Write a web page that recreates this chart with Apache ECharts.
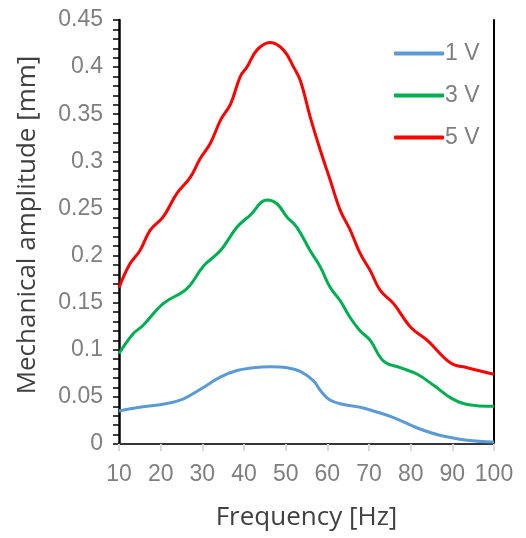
<!DOCTYPE html>
<html><head><meta charset="utf-8">
<script src="https://cdn.jsdelivr.net/npm/echarts@6/dist/echarts.min.js"></script>
<style>html,body{margin:0;padding:0;background:#fff}#c{width:526px;height:538px}</style>
</head><body><div id="c"></div>
<script>
const seriesNames = ['1 V', '3 V', '5 V'];
const xTicks = [10, 20, 30, 40, 50, 60, 70, 80, 90, 100];
const yTicks = [0, 0.05, 0.1, 0.15, 0.2, 0.25, 0.3, 0.35, 0.4, 0.45];

const blueHz = [10, 15, 21.5, 25.5, 29.5, 34.3, 38.3, 42.3, 46.3, 50.3, 53.5, 56.7, 58.3, 60.5, 63.9, 67.9, 71.1, 75.9, 81.6, 87.2, 93.6, 100];
const blueV  = [0.035, 0.039, 0.043, 0.048, 0.058, 0.071, 0.078, 0.081, 0.082, 0.081, 0.077, 0.067, 0.057, 0.047, 0.042, 0.039, 0.035, 0.028, 0.017, 0.009, 0.004, 0.002];

const greenHz = [10, 13.4, 15.8, 20.6, 26.3, 30.3, 34.3, 38.3, 41.5, 45.5, 47.9, 50.3, 52.7, 55.9, 58.3, 60.7, 63.1, 65.5, 67.9, 70.3, 73.5, 77.5, 81.6, 85.6, 89.6, 93.6, 100];
const greenV  = [0.096, 0.117, 0.126, 0.149, 0.165, 0.189, 0.205, 0.230, 0.243, 0.259, 0.255, 0.241, 0.230, 0.205, 0.188, 0.166, 0.152, 0.134, 0.120, 0.110, 0.088, 0.081, 0.074, 0.062, 0.049, 0.042, 0.040];

const redHz = [10, 12.6, 15, 17.5, 20.6, 23.9, 27.1, 29.5, 31.9, 34.4, 36.8, 39.1, 40.7, 43.1, 46.3, 49.5, 51.9, 53.5, 55.9, 58.3, 60.7, 63.1, 65.5, 67.9, 70.3, 72.7, 75.9, 80, 84, 89.6, 93.6, 100];
const redV  = [0.166, 0.191, 0.205, 0.227, 0.241, 0.266, 0.283, 0.303, 0.319, 0.344, 0.361, 0.390, 0.400, 0.418, 0.426, 0.418, 0.400, 0.386, 0.347, 0.312, 0.280, 0.248, 0.227, 0.202, 0.184, 0.163, 0.149, 0.124, 0.110, 0.086, 0.081, 0.074];

const colors = ['#5B9BD5', '#00B050', '#FF0000'];
const zip = (a, b) => a.map((x, i) => [x, b[i]]);
const allData = [zip(blueHz, blueV), zip(greenHz, greenV), zip(redHz, redV)];

const chart = echarts.init(document.getElementById('c'));
const labelFont = {color: '#7F7F7F', fontFamily: "'Liberation Sans', Arial, sans-serif", fontSize: 23};
const titleFont = {color: '#404040', fontFamily: "'Open Sans', sans-serif", fontSize: 26};
chart.setOption({
  animation: false,
  grid: {left: 119, right: 32, top: 20, bottom: 94, containLabel: false},
  legend: {
    orient: 'vertical', left: 389, top: 37,
    itemWidth: 50, itemHeight: 4, itemGap: 19,
    icon: 'roundRect',
    data: seriesNames,
    textStyle: Object.assign({}, labelFont, {padding: [0, 0, 0, -4]})
  },
  xAxis: [{
    type: 'value', min: xTicks[0], max: xTicks[xTicks.length - 1], interval: 10,
    name: 'Frequency [Hz]', nameLocation: 'middle', nameGap: 61,
    nameTextStyle: titleFont,
    axisLine: {show: true, lineStyle: {color: '#D9D9D9', width: 2}},
    axisTick: {show: true, length: 7, lineStyle: {color: '#D9D9D9', width: 2}},
    axisLabel: Object.assign({margin: 19}, labelFont),
    splitLine: {show: false}
  }, {
    type: 'value', position: 'top', min: 10, max: 100,
    axisLine: {show: true, lineStyle: {color: '#000', width: 1.5}},
    axisTick: {show: false}, axisLabel: {show: false}, splitLine: {show: false}
  }],
  yAxis: [{
    type: 'value', min: yTicks[0], max: yTicks[yTicks.length - 1], interval: 0.05,
    name: 'Mechanical amplitude [mm]', nameLocation: 'middle', nameGap: 78,
    nameTextStyle: Object.assign({padding: [0, 0, 0, 14]}, titleFont),
    axisLine: {show: true, lineStyle: {color: '#000', width: 2.5}},
    axisTick: {show: true, length: 6, lineStyle: {color: '#000', width: 1.5}},
    minorTick: {show: true, splitNumber: 5, length: 6, lineStyle: {color: '#000', width: 1.5}},
    axisLabel: Object.assign({margin: 16, formatter: v => String(+v.toFixed(2))}, labelFont),
    splitLine: {show: false}
  }, {
    type: 'value', position: 'right', min: 0, max: 0.45,
    axisLine: {show: true, lineStyle: {color: '#000', width: 2}},
    axisTick: {show: false}, axisLabel: {show: false}, splitLine: {show: false}
  }],
  series: seriesNames.map((n, i) => ({
    name: n, type: 'line', smooth: 0.4, showSymbol: false, symbol: 'none',
    data: allData[i], color: colors[i],
    lineStyle: {color: colors[i], width: 3}
  }))
});
</script></body></html>
